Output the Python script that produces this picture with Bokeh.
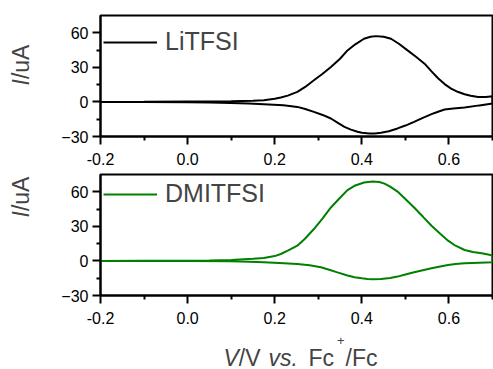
from math import pi
from bokeh.plotting import figure
from bokeh.layouts import column, row
from bokeh.models import (FixedTicker, Legend, LegendItem, Label,
                          NumeralTickFormatter)
from bokeh.embed import file_html
from bokeh.resources import INLINE

FONT = "Liberation Sans"

# ---- data ----
X_RANGE = (-0.2, 0.7)
Y_RANGE = (-30, 75)
x_major = [-0.2, 0.0, 0.2, 0.4, 0.6]
x_minor = [-0.1, 0.1, 0.3, 0.5, 0.7]
y_major = [-30, 0, 30, 60]
y_minor = [-15, 15, 45]

li_x_fwd = [-0.2, -0.1, 0.0, 0.05, 0.1, 0.15, 0.175, 0.2, 0.214, 0.23, 0.252, 0.27,
            0.29, 0.31, 0.329, 0.35, 0.367, 0.385, 0.405, 0.42, 0.432, 0.45, 0.467,
            0.485, 0.505, 0.525, 0.544, 0.56, 0.575, 0.59, 0.605, 0.62, 0.636, 0.65,
            0.667, 0.685, 0.70]
li_y_fwd = [0.0, 0.1, 0.3, 0.4, 0.6, 1.1, 1.5, 2.7, 3.8, 5.5, 8.7, 13.0,
            18.8, 24.5, 30.3, 37.5, 44.7, 50.0, 54.8, 56.5, 57.1, 56.5, 54.8,
            50.5, 44.7, 39.0, 33.2, 26.5, 20.5, 15.5, 11.6, 8.8, 6.7, 5.3,
            4.3, 4.2, 4.9]
li_x_rev = [0.70, 0.67, 0.636, 0.61, 0.59, 0.575, 0.56, 0.54, 0.52, 0.50, 0.482,
            0.462, 0.444, 0.43, 0.417, 0.40, 0.39, 0.375, 0.36, 0.345, 0.329, 0.31,
            0.29, 0.27, 0.252, 0.22, 0.175, 0.14, 0.099, 0.05, 0.0, -0.1, -0.2]
li_y_rev = [-1.4, -3.0, -4.9, -5.8, -6.6, -8.5, -10.6, -13.8, -17.3, -20.5, -23.0,
            -25.5, -26.8, -27.3, -27.4, -26.8, -25.9, -24.0, -21.6, -18.2, -14.4, -11.3,
            -8.6, -6.2, -4.3, -2.9, -2.0, -1.4, -0.9, -0.5, -0.3, -0.1, 0.0]

dm_x_fwd = [-0.2, -0.1, 0.0, 0.05, 0.1, 0.15, 0.175, 0.2, 0.214, 0.23, 0.252, 0.27,
            0.29, 0.31, 0.329, 0.35, 0.367, 0.385, 0.405, 0.425, 0.44, 0.452, 0.465,
            0.482, 0.50, 0.52, 0.54, 0.56, 0.58, 0.598, 0.615, 0.636, 0.655, 0.675,
            0.69, 0.70]
dm_y_fwd = [0.0, 0.1, 0.2, 0.4, 0.9, 1.8, 2.6, 4.2, 6.0, 8.9, 13.2, 19.5,
            27.7, 37.0, 46.4, 54.8, 61.4, 65.5, 68.0, 68.9, 68.5, 67.1, 64.5,
            60.2, 53.8, 46.4, 38.5, 30.5, 23.5, 17.6, 13.2, 9.5, 7.7, 6.6,
            5.5, 4.6]
dm_x_rev = [0.70, 0.67, 0.636, 0.615, 0.598, 0.58, 0.56, 0.54, 0.52, 0.50, 0.482,
            0.465, 0.444, 0.425, 0.413, 0.40, 0.383, 0.365, 0.344, 0.325, 0.306, 0.28,
            0.252, 0.21, 0.175, 0.14, 0.099, 0.0, -0.2]
dm_y_rev = [-1.2, -1.6, -2.1, -2.7, -3.5, -4.8, -6.4, -8.1, -9.9, -11.8, -13.6,
            -14.8, -15.6, -15.8, -15.6, -15.1, -14.2, -12.4, -9.9, -7.6, -5.5, -3.8,
            -2.6, -1.8, -1.2, -0.7, -0.3, -0.1, 0.0]

series = [
    ("LiTFSI", "black", li_x_fwd + li_x_rev, li_y_fwd + li_y_rev, 80),
    ("DMITFSI", "#008000", dm_x_fwd + dm_x_rev, dm_y_fwd + dm_y_rev, 87),
]


def make_fig(height, top, bottom):
    p = figure(width=453, height=height, x_range=X_RANGE, y_range=Y_RANGE,
               output_backend="svg", toolbar_location=None,
               min_border_left=60, min_border_right=1,
               min_border_top=top, min_border_bottom=bottom)
    p.grid.visible = False
    p.background_fill_color = "white"
    p.border_fill_color = "white"
    p.outline_line_color = "black"
    p.outline_line_width = 2
    p.xaxis.ticker = FixedTicker(ticks=x_major, minor_ticks=x_minor)
    p.yaxis.ticker = FixedTicker(ticks=y_major, minor_ticks=y_minor)
    p.xaxis.formatter = NumeralTickFormatter(format="0.0")
    for ax in (p.xaxis[0], p.yaxis[0]):
        ax.axis_line_width = 2
        ax.axis_line_color = "black"
        ax.major_tick_line_width = 2
        ax.minor_tick_line_width = 2
        ax.major_tick_out = 8
        ax.major_tick_in = 0
        ax.minor_tick_out = 4
        ax.minor_tick_in = 0
        ax.major_label_text_font = FONT
        ax.major_label_text_font_size = "16px"
        ax.major_label_text_color = "black"
    p.xaxis.major_label_standoff = 8
    p.yaxis.major_label_standoff = 4
    return p


def text_fig(width, height):
    p = figure(width=width, height=height, x_axis_type=None, y_axis_type=None,
               output_backend="svg", toolbar_location=None,
               min_border=0, min_border_left=0, min_border_right=0,
               min_border_top=0, min_border_bottom=0)
    p.grid.visible = False
    p.outline_line_color = None
    p.background_fill_color = "white"
    p.border_fill_color = "white"
    return p


figs = []
for i, (name, color, xs, ys, leg_y) in enumerate(series):
    if i == 0:
        p = make_fig(172, 15, 36)
    else:
        p = make_fig(159, 2, 36)
    r = p.line(xs, ys, line_color=color, line_width=2)
    leg = Legend(items=[LegendItem(label=name, renderers=[r])],
                 location=(3, leg_y), glyph_width=54, glyph_height=28, label_height=28,
                 label_standoff=8, label_text_font=FONT, label_text_font_size="25px",
                 padding=0, margin=0, spacing=0,
                 border_line_alpha=0, background_fill_alpha=0)
    p.add_layout(leg)
    figs.append(p)

# y-axis titles (left strip)
ylab = text_fig(40, 369)
for y0 in (284, 152):
    ylab.add_layout(Label(x=20.5, y=y0, x_units="screen", y_units="screen", text="I",
                          angle=pi / 2, text_align="left", text_baseline="middle",
                          text_font=FONT, text_font_size="23px", text_font_style="italic"))
    ylab.add_layout(Label(x=20.5, y=y0 + 6.4, x_units="screen", y_units="screen", text="/uA",
                          angle=pi / 2, text_align="left", text_baseline="middle",
                          text_font=FONT, text_font_size="23px"))

# x-axis title (bottom strip)
xt = text_fig(453, 38)
pieces = [
    ("V", 123, 12, "23px", "italic"),
    ("/V", 138.3, 12, "23px", "normal"),
    ("vs.", 168, 12, "23px", "italic"),
    ("Fc", 208, 12, "23px", "normal"),
    ("+", 236.5, 29, "13px", "normal"),
    ("/Fc", 245, 12, "23px", "normal"),
]
for t, x, y, fs, st in pieces:
    xt.add_layout(Label(x=x, y=y, x_units="screen", y_units="screen", text=t,
                        text_align="left", text_baseline="alphabetic",
                        text_font=FONT, text_font_size=fs, text_font_style=st))

layout = row(ylab, column(figs[0], figs[1], xt, spacing=0), spacing=0)
open("out.html", "w").write(file_html(layout, INLINE))
